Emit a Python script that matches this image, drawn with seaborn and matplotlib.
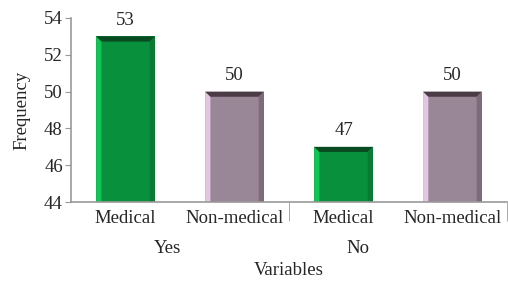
import pandas as pd
import seaborn as sns
import matplotlib.pyplot as plt
from matplotlib.patches import Polygon

# Data
groups = ["Yes", "Yes", "No", "No"]
types = ["Medical", "Non-medical", "Medical", "Non-medical"]
freq = [53, 50, 47, 50]

df = pd.DataFrame({"group": groups, "type": types, "freq": freq})
df["key"] = df["group"] + " " + df["type"]

sns.set_style("white")
plt.rcParams["font.family"] = ["Liberation Serif", "DejaVu Serif"]

fig = plt.figure(figsize=(5.08, 2.81), dpi=100)
ax = fig.add_axes([0.14, 0.281, 0.858, 0.655])

palette = {"Medical": "#08903c", "Non-medical": "#998697"}
sns.barplot(data=df, x="key", y="freq", hue="type", palette=palette,
            width=0.54, dodge=False, legend=False, saturation=1, ax=ax)

# bevel shading: light left side, dark top, darker right side
bevel = {"Medical": ("#12c455", "#0a4a22", "#0b7a35"),
         "Non-medical": ("#e2c6e2", "#4a3b45", "#7d6b79")}
for bar in list(ax.patches):
    x0, x1 = bar.get_x(), bar.get_x() + bar.get_width()
    t = types[int(round((x0 + x1) / 2))]
    bar.set_y(44)
    bar.set_height(bar.get_height() - 44)
    bar.set_linewidth(0)
    y0, y1 = 44, 44 + bar.get_height()
    dx = bar.get_width() * 0.09
    dy = 0.28
    light, dark, side = bevel[t]
    ax.add_patch(Polygon([(x0, y0), (x0, y1), (x0 + dx, y1 - dy), (x0 + dx, y0)],
                         closed=True, color=light, lw=0))
    ax.add_patch(Polygon([(x0, y1), (x1, y1), (x1 - dx, y1 - dy), (x0 + dx, y1 - dy)],
                         closed=True, color=dark, lw=0))
    ax.add_patch(Polygon([(x1, y0), (x1, y1), (x1 - dx, y1 - dy), (x1 - dx, y0)],
                         closed=True, color=side, lw=0))

for i, v in enumerate(freq):
    ax.text(i, v + 0.4, str(v), ha="center", va="bottom", fontsize=13.5)

ax.set_ylim(44, 54)
ax.set_xlim(-0.5, 3.5)
ax.set_yticks(range(44, 55, 2))
ax.set_xticks(range(4))
ax.set_xticklabels(types, fontsize=13.5)
ax.tick_params(axis="x", length=0, pad=6)
ax.tick_params(axis="y", labelsize=13.5, length=4, color="#999999",
               direction="out", left=True, pad=2)
ax.set_xticks([1.5, 3.5], minor=True)
ax.tick_params(axis="x", which="minor", length=14, color="#999999",
               direction="out", bottom=True)

for s in ["top", "right"]:
    ax.spines[s].set_visible(False)
for s in ["left", "bottom"]:
    ax.spines[s].set_color("#999999")
    ax.spines[s].set_linewidth(1.2)

ax.set_xlabel("")
ax.set_ylabel("Frequency", fontsize=13.5, labelpad=10)

ax.text(0.38, -0.25, "Yes", transform=ax.get_xaxis_transform(),
        ha="center", va="center", fontsize=13.5)
ax.text(2.13, -0.25, "No", transform=ax.get_xaxis_transform(),
        ha="center", va="center", fontsize=13.5)
ax.text(1.5, -0.37, "Variables", transform=ax.get_xaxis_transform(),
        ha="center", va="center", fontsize=13.5)

fig.savefig("out.png", dpi=100)
